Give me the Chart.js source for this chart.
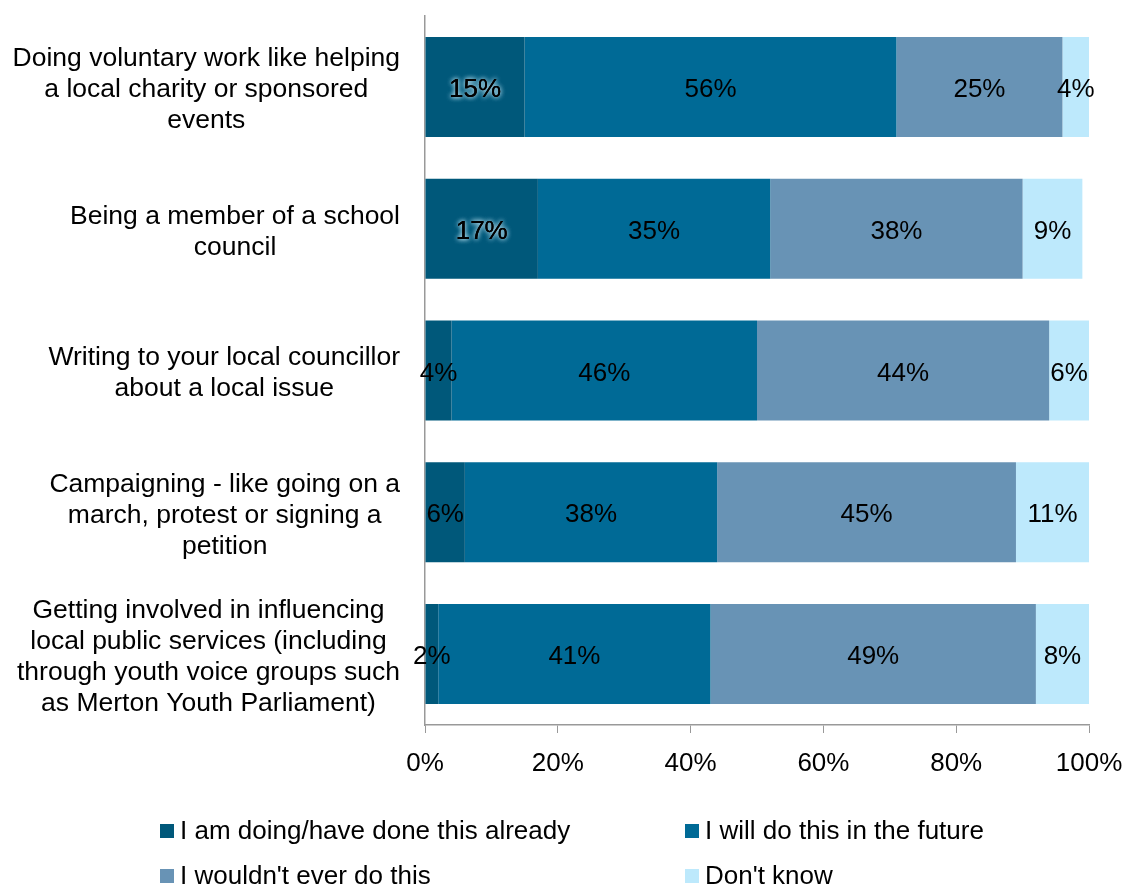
<!DOCTYPE html>
<html>
<head>
<meta charset="utf-8">
<script src="https://cdn.jsdelivr.net/npm/chart.js@4/dist/chart.umd.min.js"></script>
<style>
  body { margin: 0; background: #fff; }
</style>
</head>
<body>
<canvas id="myChart" width="1125" height="887"></canvas>
<script>
// categories (multi-line labels, as in the picture)
var categories = [
    ['Doing voluntary work like helping', 'a local charity or sponsored', 'events'],
    ['Being a member of a school', 'council'],
    ['Writing to your local councillor', 'about a local issue'],
    ['Campaigning - like going on a', 'march, protest or signing a', 'petition'],
    ['Getting involved in influencing', 'local public services (including', 'through youth voice groups such', 'as Merton Youth Parliament)']
];

var seriesNames = ['I am doing/have done this already', 'I will do this in the future', "I wouldn't ever do this", "Don't know"];

// values in %
var doingAlready = [15, 17, 4, 6, 2];
var willInFuture = [56, 35, 46, 38, 41];
var wouldntEver  = [25, 38, 44, 45, 49];
var dontKnow     = [4, 9, 6, 11, 8];

var tickValues = [0, 20, 40, 60, 80, 100];

var colors = ['#00587A', '#006A96', '#6893B5', '#BDE9FC'];
var fontName = 'Liberation Sans, Arial, sans-serif';

// labels in the middle of each segment
var segmentLabels = {
    id: 'segmentLabels',
    afterDatasetsDraw: function (chart) {
        var ctx = chart.ctx;
        ctx.save();
        ctx.font = '26px ' + fontName;
        ctx.textAlign = 'center';
        ctx.textBaseline = 'middle';
        chart.data.datasets.forEach(function (ds, i) {
            var meta = chart.getDatasetMeta(i);
            meta.data.forEach(function (bar, j) {
                var v = ds.data[j];
                var x = (bar.x + bar.base) / 2;
                var y = bar.y + 3;
                var txt = v + '%';
                if (i === 0 && v >= 10) {
                    // light glow round the text on the dark segment
                    ctx.shadowColor = 'rgba(190,230,245,1)';
                    ctx.shadowBlur = 5;
                    ctx.fillStyle = '#000';
                    ctx.fillText(txt, x, y);
                    ctx.fillText(txt, x, y);
                    ctx.shadowBlur = 0;
                    ctx.shadowColor = 'transparent';
                }
                ctx.fillStyle = '#000';
                ctx.fillText(txt, x, y);
            });
        });
        ctx.restore();
    }
};

// category labels: lines centred within each block, block pushed to the right
var categoryLabels = {
    id: 'categoryLabels',
    afterDraw: function (chart) {
        var ctx = chart.ctx;
        var yScale = chart.scales.y;
        var rightEdge = yScale.right - 25;
        var lineH = 31;
        ctx.save();
        ctx.font = '26.5px ' + fontName;
        ctx.fillStyle = '#000';
        ctx.textAlign = 'center';
        ctx.textBaseline = 'middle';
        chart.data.labels.forEach(function (lines, j) {
            var widest = 0;
            lines.forEach(function (l) { widest = Math.max(widest, ctx.measureText(l).width); });
            var cx = rightEdge - widest / 2;
            var cy = yScale.getPixelForValue(j) + 3;
            lines.forEach(function (l, k) {
                ctx.fillText(l, cx, cy + (k - (lines.length - 1) / 2) * lineH);
            });
        });
        ctx.restore();
    }
};

// legend in two columns under the axis
var twoColLegend = {
    id: 'twoColLegend',
    afterDraw: function (chart) {
        var ctx = chart.ctx;
        var colX = [160, 685];
        var rowY = [831, 876];
        ctx.save();
        ctx.font = '26px ' + fontName;
        ctx.textBaseline = 'middle';
        ctx.textAlign = 'left';
        chart.data.datasets.forEach(function (ds, i) {
            var x = colX[i % 2];
            var y = rowY[Math.floor(i / 2)];
            ctx.fillStyle = ds.backgroundColor;
            ctx.fillRect(x, y - 7, 14, 14);
            ctx.fillStyle = '#000';
            ctx.fillText(ds.label, x + 20, y + 1);
        });
        ctx.restore();
    }
};

var chartData = {
    labels: categories,
    datasets: [
        { label: seriesNames[0], data: doingAlready, backgroundColor: colors[0] },
        { label: seriesNames[1], data: willInFuture, backgroundColor: colors[1] },
        { label: seriesNames[2], data: wouldntEver, backgroundColor: colors[2] },
        { label: seriesNames[3], data: dontKnow, backgroundColor: colors[3] }
    ]
};

var chartOptions = {
    indexAxis: 'y',
    responsive: false,
    animation: false,
    layout: {
        padding: { left: 0, right: 36, top: 16, bottom: 102 }
    },
    datasets: {
        bar: { categoryPercentage: 1, barPercentage: 0.705, borderWidth: 0 }
    },
    plugins: {
        legend: { display: false },
        tooltip: { enabled: false }
    },
    scales: {
        x: {
            stacked: true,
            min: 0,
            max: 100,
            afterBuildTicks: function (scale) {
                scale.ticks = tickValues.map(function (v) { return { value: v }; });
            },
            afterFit: function (scale) {
                scale.height = 60;
                scale.paddingLeft = 0;
                scale.paddingRight = 0;
            },
            ticks: {
                color: '#000',
                font: { family: fontName, size: 26 },
                padding: 15,
                maxRotation: 0,
                callback: function (v) { return v + '%'; }
            },
            grid: { drawOnChartArea: false, drawTicks: true, tickLength: 8, color: '#999' },
            border: { color: '#999', width: 1.5 }
        },
        y: {
            stacked: true,
            afterFit: function (scale) {
                scale.width = 425;
                scale.paddingTop = 0;
                scale.paddingBottom = 0;
            },
            ticks: { display: false },
            grid: { display: false, drawTicks: false },
            border: { color: '#999', width: 1.5 }
        }
    }
};

var element = document.getElementById('myChart').getContext('2d');
var chart = new Chart(element, {
    type: 'bar',
    data: chartData,
    options: chartOptions,
    plugins: [segmentLabels, categoryLabels, twoColLegend]
});
</script>
</body>
</html>
